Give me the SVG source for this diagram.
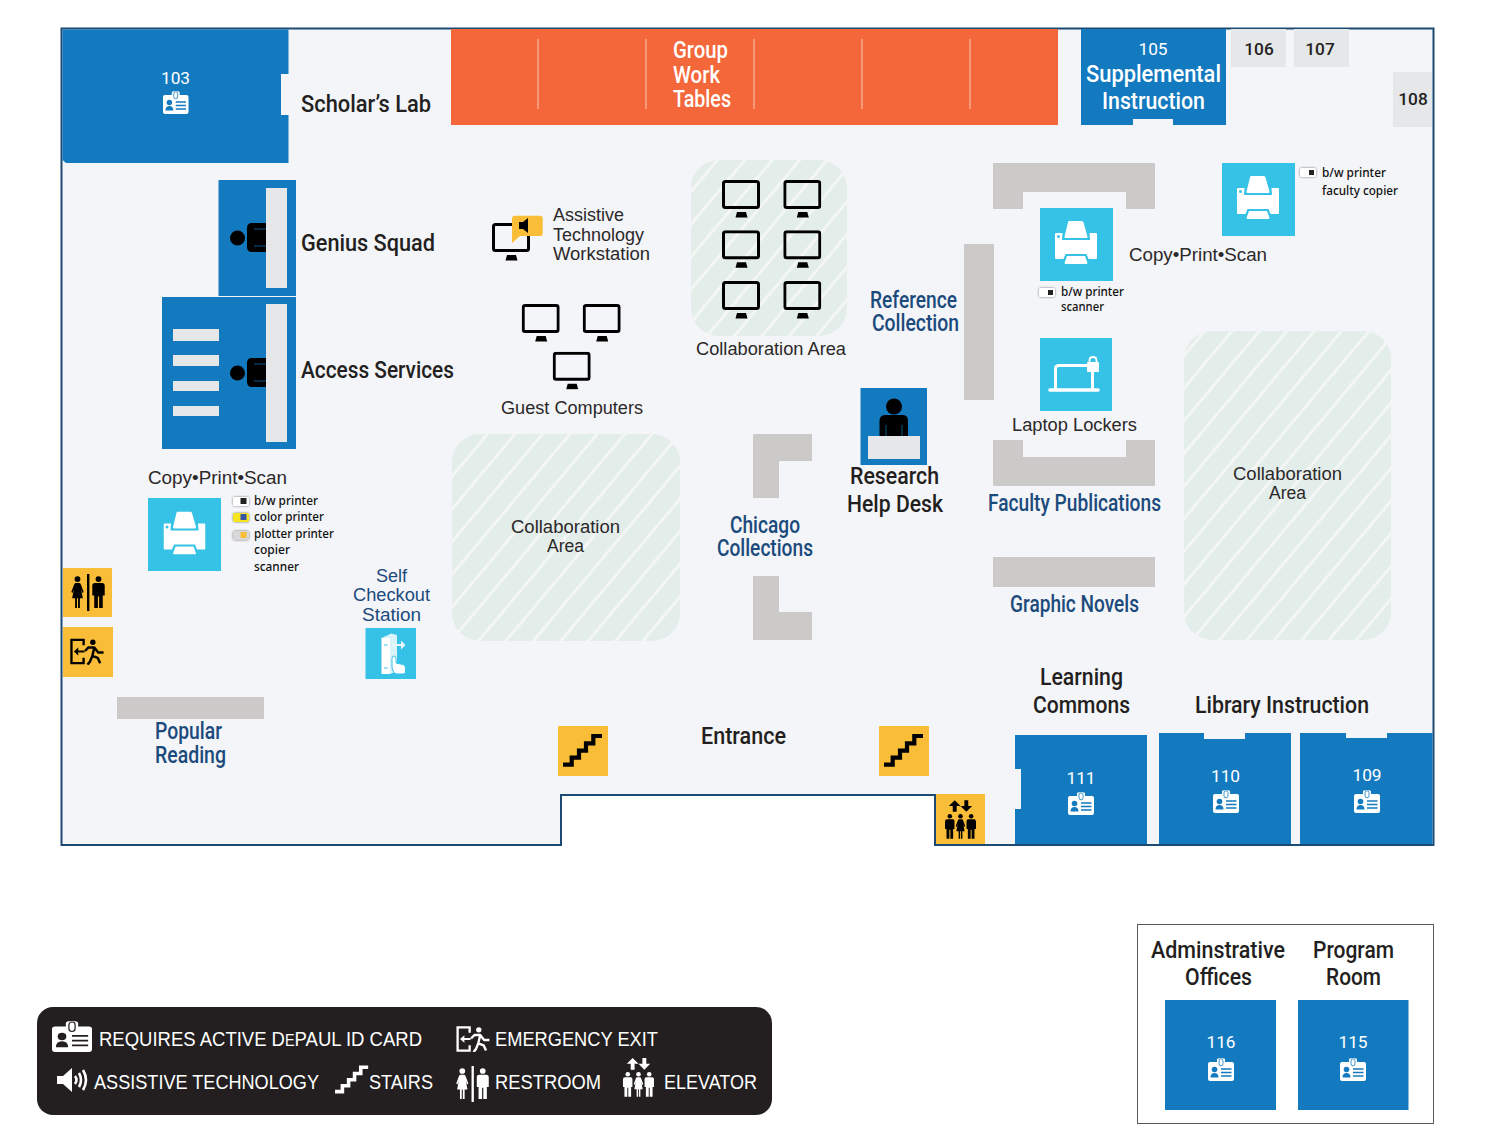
<svg xmlns="http://www.w3.org/2000/svg" width="1500" height="1148" viewBox="0 0 1500 1148">
<style>
text{font-family:"Liberation Sans",Arial,sans-serif;white-space:pre}
.c{font-family:Roboto,"Liberation Sans",sans-serif;font-weight:500;font-size:24.500px;fill:#231f20}
.o{fill:#fff;font-size:23.500px}
.u{fill:#fff}
.b{fill:#1b4a7c;font-size:23px}
.r{font-family:"Liberation Sans",sans-serif;font-size:17.500px;fill:#2b2829}
.sb{fill:#1b4a7c}
.n{font-family:Roboto,sans-serif;font-weight:400;font-size:17.300px;fill:#fff;text-anchor:middle}
.g{font-family:Roboto,sans-serif;font-weight:500;font-size:17.300px;fill:#231f20;text-anchor:middle}
.s{font-family:"Noto Sans",sans-serif;font-weight:500;font-size:12.500px;fill:#111}
.l{font-family:"Liberation Sans",sans-serif;font-size:20.500px;fill:#fff}
.room{fill:#137abf}
.shelf{fill:#cbcac8}
.pale{fill:#e6e7e8}
.cy{fill:#35c2e6}
.ye{fill:#f9bd38}
</style>
<defs>
<pattern id="hatch" width="21" height="21" patternUnits="userSpaceOnUse" patternTransform="rotate(40)">
<rect width="21" height="21" fill="#e3ede9"/><rect width="3" height="21" fill="#f3f6f5"/>
</pattern>
<filter id="sh" x="-30%" y="-50%" width="160%" height="200%"><feDropShadow dx="0" dy="0" stdDeviation="1.200" flood-color="#000" flood-opacity=".55"/></filter>
<symbol id="idc" viewBox="0 0 26 23" overflow="visible" preserveAspectRatio="none">
<path fill="#fff" d="M2,4H9V1.500Q9,0 13,0T17,1.500V4H24Q26,4 26,6V21Q26,23 24,23H2Q0,23 0,21V6Q0,4 2,4Z"/>
<rect x="11" y="0.800" width="4" height="7" rx="2" fill="#fff" stroke="currentColor" stroke-width="0.800"/>
<circle cx="6.500" cy="11.500" r="2.800" fill="currentColor"/>
<path fill="currentColor" d="M2.500,19.500Q2.500,15 6.500,15T10.500,19.500Z"/>
<path stroke="currentColor" stroke-width="1.300" d="M13,11H23.500M13,14.500H23.500M13,18H23.500"/>
</symbol>
<symbol id="printer" viewBox="0 0 42 43">
<path fill="#fff" d="M14,0H27Q28,0 28.500,1.500L32.500,15.500Q33,17 31,17H11Q9,17 9.500,15.500L13,1.500Q13,0 14,0Z"/>
<path fill="#fff" d="M1,12H7.500L7,19H35L34.500,12H41Q42,12 42,13V37Q42,38 41,38H33.500L31.500,33H10.500L8.500,38H1Q0,38 0,37V13Q0,12 1,12Z"/>
<path fill="#fff" d="M12,35H30L32.500,42Q32.500,43 31,43H11Q9.500,43 9.500,42Z"/>
<circle cx="3.500" cy="15.500" r="1.500" fill="#35c2e6"/>
</symbol>
<symbol id="mon" viewBox="0 0 38 38">
<rect x="1.500" y="1.500" width="35" height="26" rx="2" fill="none" stroke="currentColor" stroke-width="3"/>
<path fill="currentColor" d="M15,32H24L25.500,37.500H13.500Z"/>
</symbol>
<symbol id="woman" viewBox="0 0 14 36">
<circle cx="7" cy="3.500" r="3.300"/><path d="M5,8H9Q10.500,8 11,10L14,18L12.500,19L11,14.500L13,25H9.700V36H7.600V25H6.400V36H4.300V25H1L3,14.500L1.500,19L0,18L3,10Q3.500,8 5,8Z"/>
</symbol>
<symbol id="man" viewBox="0 0 14 36">
<circle cx="7" cy="3.500" r="3.300"/><path d="M3,8H11Q14,8 14,11V22H11.800V36H7.700V23H6.300V36H2.200V22H0V11Q0,8 3,8Z"/>
</symbol>
<symbol id="restroom" viewBox="0 0 36 37">
<use href="#woman" x="0" y="2" width="15" height="32" fill="currentColor"/>
<use href="#man" x="22" y="2" width="13" height="32" fill="currentColor"/>
<rect x="17" y="0" width="2.400" height="37" fill="currentColor"/>
</symbol>
<symbol id="exit" viewBox="0 0 36 27">
<path fill="none" stroke="currentColor" stroke-width="2.400" d="M14,7V1.500H1.500V25.500H14V20"/>
<path fill="none" stroke="currentColor" stroke-width="2" d="M15,13.500H7"/>
<path fill="currentColor" d="M4,13.500L8.500,9.500V17.500Z"/>
<circle cx="23.500" cy="4" r="2.800" fill="currentColor"/>
<path fill="none" stroke="currentColor" stroke-width="2.500" stroke-linejoin="round" d="M15.500,13L19,9.300H25L29,14.500H34.500M25,9.300L23,18L28.500,20L31,25.500M23,18L20.500,24L18,27"/>
</symbol>
<symbol id="stairs" viewBox="0 0 40 35">
<path fill="none" stroke="currentColor" stroke-width="4.200" d="M0,31.200H8.700V24.200H16V17.200H23V9.800H30.300V2.500H39"/>
</symbol>
<symbol id="elev" viewBox="0 0 32 40">
<path fill="currentColor" d="M10,0L16,6H12V12H8V6H4Z"/>
<path fill="currentColor" d="M22,12L16,6H20V0H24V6H28Z"/>
<use href="#man" x="0" y="14" width="10" height="26" fill="currentColor"/>
<use href="#woman" x="11" y="14" width="10" height="26" fill="currentColor"/>
<use href="#man" x="22" y="14" width="10" height="26" fill="currentColor"/>
</symbol>
<symbol id="speaker" viewBox="0 0 31 24">
<path fill="currentColor" d="M0,8H6L15,0V24L6,16H0Z"/>
<path fill="none" stroke="currentColor" stroke-width="2.600" d="M18,8Q21,12 18,16M22,5Q26,12 22,19M26,2Q32,12 26,22"/>
</symbol>
</defs>

<rect width="1500" height="1148" fill="#fff"/>
<path id="floor" d="M61.500,28.500H1433.500V845H935V795H561V845H61.500Z" fill="#f4f5f8" stroke="#1d4a73" stroke-width="2"/>

<g id="room-103"><path class="room" d="M62.500,29.500H288.500V74H281V115H288.500V163H66L62.500,160Z"/>
<text class="n" x="175.500" y="84">103</text><use href="#idc" x="163" y="91" width="25.500" height="23" color="#137abf"/></g>
<text id="scholars-lab" class="c" x="301" y="112" textLength="130" lengthAdjust="spacingAndGlyphs">Scholar’s Lab</text>

<g id="group-work"><rect x="451" y="29" width="607" height="96" fill="#f4673b"/>
<path stroke="#f7b49c" stroke-width="1.300" d="M538,39V109M646,39V109M754,39V109M862,39V109M970,39V109"/>
<text class="c o" x="673" y="58" textLength="55" lengthAdjust="spacingAndGlyphs">Group</text>
<text class="c o" x="673" y="83" textLength="47" lengthAdjust="spacingAndGlyphs">Work</text>
<text class="c o" x="673" y="107" textLength="58" lengthAdjust="spacingAndGlyphs">Tables</text></g>

<g id="room-105"><path class="room" d="M1081,29H1226V125H1173V119H1133V125H1081Z"/>
<text class="n" x="1153" y="55">105</text>
<text class="c u" x="1086" y="82" textLength="135" lengthAdjust="spacingAndGlyphs">Supplemental</text>
<text class="c u" x="1102" y="109" textLength="103" lengthAdjust="spacingAndGlyphs">Instruction</text></g>
<g id="room-106"><rect class="pale" x="1231" y="29" width="55" height="38"/><text class="g" x="1259" y="55">106</text></g>
<g id="room-107"><rect class="pale" x="1294" y="29" width="55" height="38"/><text class="g" x="1320" y="55">107</text></g>
<g id="room-108"><rect class="pale" x="1393" y="72" width="39" height="55"/><text class="g" x="1413" y="105">108</text></g>

<g id="genius-squad"><rect class="room" x="218.500" y="180" width="77.500" height="116"/><rect class="pale" x="266" y="188" width="21" height="100"/>
<circle cx="237.500" cy="238" r="7.500"/><path d="M252,223H266V252H252Q247,252 247,247V228Q247,223 252,223Z"/>
<path stroke="#137abf" stroke-width=".7" d="M254,229H266M254,246H266"/>
<text class="c" x="301" y="251" textLength="134" lengthAdjust="spacingAndGlyphs">Genius Squad</text></g>

<g id="access-services"><rect class="room" x="162" y="297" width="134" height="152"/><rect class="pale" x="266" y="304" width="21" height="138"/>
<rect class="pale" x="173" y="329" width="46" height="12"/><rect class="pale" x="173" y="355" width="46" height="11"/><rect class="pale" x="173" y="381" width="46" height="10"/><rect class="pale" x="173" y="406" width="46" height="10"/>
<circle cx="237.500" cy="373" r="7.500"/><path d="M252,358H266V387H252Q247,387 247,382V363Q247,358 252,358Z"/>
<path stroke="#137abf" stroke-width=".7" d="M254,364H266M254,381H266"/>
<text class="c" x="301" y="378" textLength="153" lengthAdjust="spacingAndGlyphs">Access Services</text></g>

<g id="assistive-workstation">
<use href="#mon" x="492" y="223" width="38" height="38" color="#000"/>
<path class="ye" d="M515,215.700H540Q542.700,215.700 542.700,218.500V233.500Q542.700,236 540,236H520L512,243V218.500Q512,215.700 515,215.700Z"/>
<path d="M519,222H523L528,218V233L523,229H519Z"/>
<text class="r" x="553" y="221" textLength="71" lengthAdjust="spacingAndGlyphs">Assistive</text>
<text class="r" x="553" y="241" textLength="91" lengthAdjust="spacingAndGlyphs">Technology</text>
<text class="r" x="553" y="260" textLength="97" lengthAdjust="spacingAndGlyphs">Workstation</text></g>

<g id="guest-computers">
<use href="#mon" x="521.700" y="304" width="38" height="38" color="#000"/>
<use href="#mon" x="582.700" y="304" width="38" height="38" color="#000"/>
<use href="#mon" x="552.700" y="351.700" width="38" height="38" color="#000"/>
<text class="r" x="501" y="414" textLength="142" lengthAdjust="spacingAndGlyphs">Guest Computers</text></g>

<g id="collab-computers"><rect x="691" y="160" width="156" height="176" rx="28" fill="url(#hatch)"/>
<use href="#mon" x="722" y="180" width="38" height="38" color="#000"/><use href="#mon" x="783.300" y="180" width="38" height="38" color="#000"/>
<use href="#mon" x="722" y="230.300" width="38" height="38" color="#000"/><use href="#mon" x="783.300" y="230.300" width="38" height="38" color="#000"/>
<use href="#mon" x="722" y="281" width="38" height="38" color="#000"/><use href="#mon" x="783.300" y="281" width="38" height="38" color="#000"/>
<text class="r" x="696" y="355" textLength="150" lengthAdjust="spacingAndGlyphs">Collaboration Area</text></g>

<g id="reference-collection">
<text class="c b" x="870" y="308" textLength="87" lengthAdjust="spacingAndGlyphs">Reference</text>
<text class="c b" x="872" y="331" textLength="87" lengthAdjust="spacingAndGlyphs">Collection</text>
<rect class="shelf" x="964" y="244" width="30" height="156"/></g>

<g id="shelves-top"><path class="shelf" d="M993,163H1155V209H1126V192H1023V209H993Z"/></g>

<g id="printer-mid"><rect class="cy" x="1040" y="208" width="73" height="73"/><use href="#printer" x="1055" y="221" width="42" height="43"/>
<rect x="1039" y="288" width="16" height="9" rx="2" fill="#fff" filter="url(#sh)"/><rect x="1048" y="290" width="5" height="5" fill="#222"/>
<text class="s" x="1061" y="296" textLength="63" lengthAdjust="spacingAndGlyphs">b/w printer</text>
<text class="s" x="1061" y="311" textLength="43" lengthAdjust="spacingAndGlyphs">scanner</text></g>

<text id="copy-mid" class="r" x="1129" y="261" textLength="138" lengthAdjust="spacingAndGlyphs">Copy•Print•Scan</text>

<g id="printer-top"><rect class="cy" x="1222" y="163" width="73" height="73"/><use href="#printer" x="1237" y="176" width="42" height="43"/>
<rect x="1300" y="168" width="16" height="9" rx="2" fill="#fff" filter="url(#sh)"/><rect x="1309" y="170" width="5" height="5" fill="#222"/>
<text class="s" x="1322" y="177" textLength="64" lengthAdjust="spacingAndGlyphs">b/w printer</text>
<text class="s" x="1322" y="195" textLength="76" lengthAdjust="spacingAndGlyphs">faculty copier</text></g>

<g id="laptop-lockers"><rect class="cy" x="1040" y="338" width="72" height="73"/>
<path fill="none" stroke="#fff" stroke-width="3" d="M1055.500,390V369Q1055.500,365.500 1059,365.500H1090M1092.500,370V390"/>
<path stroke="#fff" stroke-width="3.600" stroke-linecap="round" d="M1050,390H1098"/>
<rect x="1087" y="362" width="12" height="10" rx="1" fill="#fff"/><path fill="none" stroke="#fff" stroke-width="1.800" d="M1089.500,362V360.500Q1089.500,357 1093,357T1096.500,360.500V362"/>
<text class="r" x="1012" y="431" textLength="125" lengthAdjust="spacingAndGlyphs">Laptop Lockers</text></g>

<g id="faculty-publications"><path class="shelf" d="M993,440H1023V457H1126V440H1155V486H993Z"/>
<text class="c b" x="988" y="511" textLength="173" lengthAdjust="spacingAndGlyphs">Faculty Publications</text></g>

<g id="graphic-novels"><rect class="shelf" x="993" y="557" width="162" height="30"/>
<text class="c b" x="1010" y="612" textLength="129" lengthAdjust="spacingAndGlyphs">Graphic Novels</text></g>

<g id="help-desk"><rect class="room" x="860.500" y="388" width="66.500" height="77"/>
<circle cx="894" cy="406.500" r="8"/><path d="M885,415H903Q908,415 908,421V436H879.500V421Q879.500,415 885,415Z"/>
<path stroke="#137abf" stroke-width=".7" d="M886,425V436M902,425V436"/>
<rect class="pale" x="868" y="436" width="52" height="23"/>
<text class="c" x="850" y="484" textLength="89" lengthAdjust="spacingAndGlyphs">Research</text>
<text class="c" x="847" y="512" textLength="96" lengthAdjust="spacingAndGlyphs">Help Desk</text></g>

<g id="collab-right"><rect x="1184" y="331" width="207" height="309" rx="28" fill="url(#hatch)"/>
<text class="r" x="1233" y="480" textLength="109" lengthAdjust="spacingAndGlyphs">Collaboration</text>
<text class="r" x="1269" y="499" textLength="37" lengthAdjust="spacingAndGlyphs">Area</text></g>

<g id="collab-center"><rect x="452" y="434" width="228" height="207" rx="28" fill="url(#hatch)"/>
<text class="r" x="511" y="533" textLength="109" lengthAdjust="spacingAndGlyphs">Collaboration</text>
<text class="r" x="547" y="552" textLength="37" lengthAdjust="spacingAndGlyphs">Area</text></g>

<g id="chicago-collections"><path class="shelf" d="M753,434H812V461H779V498H753Z"/><path class="shelf" d="M753,576H779V612H812V640H753Z"/>
<text class="c b" x="730" y="533" textLength="70" lengthAdjust="spacingAndGlyphs">Chicago</text>
<text class="c b" x="717" y="556" textLength="96" lengthAdjust="spacingAndGlyphs">Collections</text></g>

<g id="printer-left"><text class="r" x="148" y="484" textLength="139" lengthAdjust="spacingAndGlyphs">Copy•Print•Scan</text>
<rect class="cy" x="148" y="498" width="73" height="73"/><use href="#printer" x="163.500" y="511.500" width="42" height="43"/>
<rect x="233" y="497" width="16" height="9" rx="2" fill="#fff" filter="url(#sh)"/><rect x="240.500" y="498" width="6" height="6" fill="#222"/>
<rect x="233" y="513" width="16" height="9" rx="2" fill="#f5e51b" filter="url(#sh)"/><rect x="240.500" y="514" width="6" height="6" fill="#3a55a4"/>
<rect x="233" y="531" width="16" height="9" rx="2" fill="#d8d8d8" filter="url(#sh)"/><rect x="240.500" y="532" width="6" height="6" fill="#f9bd38"/>
<text class="s" x="254" y="505" textLength="64" lengthAdjust="spacingAndGlyphs">b/w printer</text>
<text class="s" x="254" y="521" textLength="70" lengthAdjust="spacingAndGlyphs">color printer</text>
<text class="s" x="254" y="538" textLength="80" lengthAdjust="spacingAndGlyphs">plotter printer</text>
<text class="s" x="254" y="554" textLength="36" lengthAdjust="spacingAndGlyphs">copier</text>
<text class="s" x="254" y="571" textLength="45" lengthAdjust="spacingAndGlyphs">scanner</text></g>

<g id="self-checkout">
<text class="r sb" x="376" y="582" textLength="31" lengthAdjust="spacingAndGlyphs">Self</text>
<text class="r sb" x="353" y="601" textLength="77" lengthAdjust="spacingAndGlyphs">Checkout</text>
<text class="r sb" x="362" y="621" textLength="59" lengthAdjust="spacingAndGlyphs">Station</text>
<rect class="cy" x="365.500" y="628" width="50.500" height="51"/>
<path fill="#d9f3fa" d="M381.500,638L391.500,633.500L397,635V671L390,674Z"/>
<path fill="#fff" d="M381.500,638H390V674H381.500Z"/>
<path stroke="#35c2e6" stroke-width="1" d="M384,645H387.500M384,668H387.500"/>
<path stroke="#eaf8fc" stroke-width="2" d="M392,645H401"/><path fill="#eaf8fc" d="M401,640.500L405.500,645L401,649.500Z"/>
<path fill="#fff" stroke="#35c2e6" stroke-width="1" d="M392,668V658.500Q392,656 394,656T396,658.500V663L403,664.500Q405.500,665 405.500,668V672Q405.500,674 403,674H397Q395,674 393.500,672Z"/></g>

<g id="restroom-icon"><rect class="ye" x="63" y="568" width="49" height="49"/><use href="#restroom" x="70" y="574" width="36" height="37" color="#000"/></g>
<g id="exit-icon"><rect class="ye" x="63" y="627" width="50" height="50"/><use href="#exit" x="70" y="638" width="35" height="27" color="#000"/></g>
<g id="popular-reading"><rect class="shelf" x="117" y="697" width="147" height="22"/>
<text class="c b" x="155" y="739" textLength="67" lengthAdjust="spacingAndGlyphs">Popular</text>
<text class="c b" x="155" y="763" textLength="71" lengthAdjust="spacingAndGlyphs">Reading</text></g>
<g id="stairs-left"><rect class="ye" x="558" y="726" width="50" height="50"/><use href="#stairs" x="563" y="733.500" width="40" height="35" color="#000"/></g>
<g id="stairs-right"><rect class="ye" x="879" y="726" width="50" height="50"/><use href="#stairs" x="884" y="733.500" width="40" height="35" color="#000"/></g>
<text id="entrance" class="c" x="701" y="744" textLength="85" lengthAdjust="spacingAndGlyphs">Entrance</text>
<g id="elevator-icon"><rect class="ye" x="936" y="794" width="49" height="50"/><use href="#elev" x="945" y="800" width="31" height="39" color="#000"/></g>

<text id="learning-commons" class="c" x="1040" y="685" textLength="83" lengthAdjust="spacingAndGlyphs">Learning</text>
<text class="c" x="1033" y="713" textLength="97" lengthAdjust="spacingAndGlyphs">Commons</text>
<text id="library-instruction" class="c" x="1195" y="713" textLength="174" lengthAdjust="spacingAndGlyphs">Library Instruction</text>

<g id="room-111"><path class="room" d="M1015,735H1147V844H1015V809H1021V769H1015Z"/><text class="n" x="1081" y="784">111</text><use href="#idc" x="1068" y="792" width="26" height="23" color="#137abf"/></g>
<g id="room-110"><path class="room" d="M1159,733H1204V739H1245V733H1291V844H1159Z"/><text class="n" x="1225.500" y="782">110</text><use href="#idc" x="1213" y="790" width="26" height="23" color="#137abf"/></g>
<g id="room-109"><path class="room" d="M1300,733H1346V738H1387V733H1432.500V844H1300Z"/><text class="n" x="1367" y="781">109</text><use href="#idc" x="1354" y="790" width="26" height="23" color="#137abf"/></g>

<g id="panel"><rect x="1137.500" y="924.500" width="296" height="199" fill="#fff" stroke="#58595b" stroke-width="1"/>
<text class="c" x="1151" y="958" textLength="134" lengthAdjust="spacingAndGlyphs">Adminstrative</text>
<text class="c" x="1185" y="985" textLength="67" lengthAdjust="spacingAndGlyphs">Offices</text>
<text class="c" x="1313" y="958" textLength="81" lengthAdjust="spacingAndGlyphs">Program</text>
<text class="c" x="1326" y="985" textLength="55" lengthAdjust="spacingAndGlyphs">Room</text>
<g id="room-116"><rect class="room" x="1165" y="1000" width="111" height="110"/><text class="n" x="1221" y="1048">116</text><use href="#idc" x="1208" y="1058" width="26" height="23" color="#137abf"/></g>
<g id="room-115"><rect class="room" x="1298" y="1000" width="110.500" height="110"/><text class="n" x="1353" y="1048">115</text><use href="#idc" x="1340" y="1058" width="26" height="23" color="#137abf"/></g></g>

<g id="legend"><rect x="37" y="1007" width="735" height="108" rx="16" fill="#231f20"/>
<use href="#idc" x="52" y="1021" width="40" height="31" color="#231f20"/>
<text class="l" x="99" y="1046" textLength="323" lengthAdjust="spacingAndGlyphs">REQUIRES ACTIVE D<tspan font-size="16">E</tspan>PAUL ID CARD</text>
<use href="#exit" x="456" y="1026" width="35" height="26" color="#fff"/>
<text class="l" x="495" y="1046" textLength="163" lengthAdjust="spacingAndGlyphs">EMERGENCY EXIT</text>
<use href="#speaker" x="57" y="1068" width="31" height="24" color="#fff"/>
<text class="l" x="94" y="1089" textLength="225" lengthAdjust="spacingAndGlyphs">ASSISTIVE TECHNOLOGY</text>
<use href="#stairs" x="335" y="1064" width="34" height="32" color="#fff"/>
<text class="l" x="369" y="1089" textLength="64" lengthAdjust="spacingAndGlyphs">STAIRS</text>
<use href="#restroom" x="455" y="1066" width="35" height="36" color="#fff"/>
<text class="l" x="495" y="1089" textLength="106" lengthAdjust="spacingAndGlyphs">RESTROOM</text>
<use href="#elev" x="622" y="1058" width="33" height="39" color="#fff"/>
<text class="l" x="664" y="1089" textLength="93" lengthAdjust="spacingAndGlyphs">ELEVATOR</text></g>
</svg>
